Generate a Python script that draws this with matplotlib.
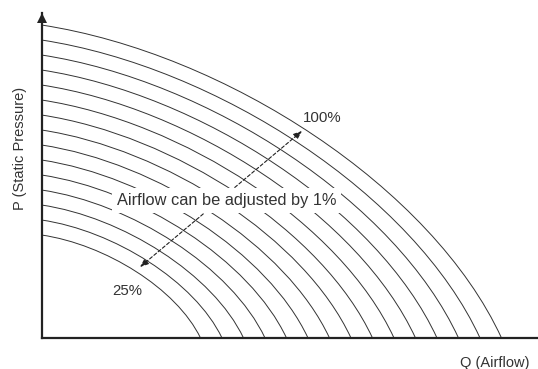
import matplotlib
matplotlib.use("Agg")
import matplotlib.pyplot as plt
from matplotlib.path import Path
from matplotlib.patches import PathPatch

# -----------------------------
# data (units = px from origin)
# -----------------------------
q_max = [159, 180.5, 202, 223.5, 245, 266.5, 288, 309.5, 331, 352.5, 374, 395.5, 417, 438.5, 460]
p_max = [103, 118, 133, 148, 163, 178, 193, 208, 223, 238, 253, 268, 283, 298, 313]

label_low = "25%"
label_high = "100%"
label_mid = "Airflow can be adjusted by 1%"
x_label = "Q (Airflow)"
y_label = "P (Static Pressure)"

# normalised bezier control points for the fan curve shape
CTRL = [(0.0, 1.0), (0.40, 0.91), (0.85, 0.48), (1.0, 0.0)]

INK = "#222222"
TXT = "#333333"
plt.rcParams["font.family"] = ["Liberation Sans", "DejaVu Sans"]

fig = plt.figure(figsize=(5.38, 3.69), dpi=100)
ax = fig.add_axes([41.5 / 538, 31 / 369, 496.5 / 538, 325 / 369])
ax.set_xlim(0, 496.5)
ax.set_ylim(0, 325)

for s in ["top", "right"]:
    ax.spines[s].set_visible(False)
for s in ["left", "bottom"]:
    ax.spines[s].set_linewidth(1.6)
    ax.spines[s].set_color(INK)
ax.set_xticks([])
ax.set_yticks([])

# arrow head on the P axis
ax.plot([0], [320.5], marker="^", ms=6.5, mew=0, color=INK, clip_on=False)

# fan curves
codes = [Path.MOVETO, Path.CURVE4, Path.CURVE4, Path.CURVE4]
for q, p in zip(q_max, p_max):
    verts = [(cx * q, cy * p) for cx, cy in CTRL]
    ax.add_patch(PathPatch(Path(verts, codes), fill=False, lw=0.7,
                           edgecolor="#333333", zorder=2))

# dashed double arrow between 25% and 100%
ax.annotate("", xy=(260.5, 207), xytext=(98.5, 71),
            arrowprops=dict(arrowstyle="<|-|>,head_length=0.5,head_width=0.2",
                            linestyle=(0, (3, 2)), lw=0.8, color=INK,
                            shrinkA=0, shrinkB=0),
            zorder=2.5)

ax.text(185.3, 133, label_mid, ha="center", va="baseline", fontsize=11.8,
        color=TXT, zorder=5,
        bbox=dict(boxstyle="square,pad=0.3", facecolor="white", edgecolor="none"))
ax.text(281, 216.3, label_high, ha="center", va="baseline", fontsize=10.8, color=TXT)
ax.text(86, 43, label_low, ha="center", va="baseline", fontsize=10.8, color=TXT)

ax.text(453.5, -25, x_label, ha="center", va="center", fontsize=10.5,
        color=TXT, clip_on=False)
ax.text(-21, 190, y_label, ha="center", va="center", rotation=90,
        fontsize=10.5, color=TXT, clip_on=False)

fig.savefig("out.png", dpi=100)
